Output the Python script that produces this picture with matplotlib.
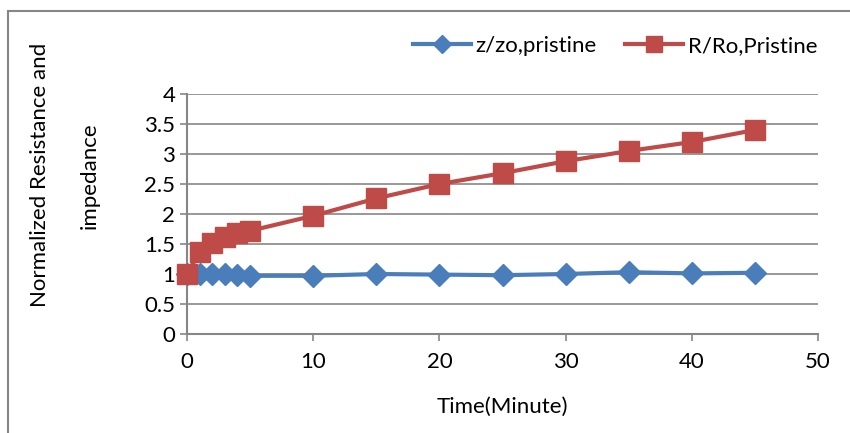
import matplotlib.pyplot as plt
from matplotlib.patches import Rectangle

plt.rcParams['font.family'] = ['Lato', 'DejaVu Sans']

time_min = [0, 1, 2, 3, 4, 5, 10, 15, 20, 25, 30, 35, 40, 45]
z_zo = [1.0, 1.0, 1.0, 1.0, 0.99, 0.97, 0.97, 1.0, 0.99, 0.98, 1.0, 1.03, 1.01, 1.02]
r_ro = [1.0, 1.37, 1.52, 1.62, 1.68, 1.72, 1.97, 2.26, 2.5, 2.68, 2.88, 3.05, 3.2, 3.4]

blue = '#4A7EBB'
red = '#BE4B48'
gray = '#868686'

fig = plt.figure(figsize=(8.5, 4.33), dpi=100)
ax = fig.add_axes([187/850, 1 - 334/433, (818 - 187)/850, (334 - 94)/433])

ax.plot(time_min, z_zo, color=blue, lw=3, marker='D', ms=11, label='z/zo,pristine',
        clip_on=False, zorder=3)
ax.plot(time_min, r_ro, color=red, lw=3, marker='s', ms=14, label='R/Ro,Pristine',
        clip_on=False, zorder=4)

ax.set_xlim(0, 50)
ax.set_ylim(0, 4)
ax.set_xticks(range(0, 51, 10))
ax.set_yticks([0, 0.5, 1, 1.5, 2, 2.5, 3, 3.5, 4])
ax.set_yticklabels(['0', '0.5', '1', '1.5', '2', '2.5', '3', '3.5', '4'])
ax.yaxis.grid(True, color=gray, lw=1.2)
ax.set_axisbelow(True)
for s in ['top', 'right']:
    ax.spines[s].set_visible(False)
for s in ['left', 'bottom']:
    ax.spines[s].set_color(gray)
    ax.spines[s].set_linewidth(1.5)
ax.tick_params(colors=gray, labelcolor='black', labelsize=16, length=5, width=1.2)
ax.tick_params(axis='x', pad=8)

ax.set_xlabel('Time(Minute)', fontsize=16, labelpad=18)
fig.text(40/850, 1 - 175/433, 'Normalized Resistance and', rotation=90,
         ha='center', va='center', fontsize=16)
fig.text(90/850, 1 - 176/433, 'impedance', rotation=90,
         ha='center', va='center', fontsize=16)

fig.legend(loc='center', bbox_to_anchor=(615/850, 1 - 46/433), ncol=2,
           frameon=False, fontsize=16, handlelength=2.6, columnspacing=1.3,
           handletextpad=0.2, markerscale=0.8)

fig.patches.append(Rectangle((8/850, -0.1), 1.2, 1 - 11/433 + 0.1,
                             transform=fig.transFigure, fill=False,
                             edgecolor=gray, lw=1.5))

fig.savefig('out.png', dpi=100)
